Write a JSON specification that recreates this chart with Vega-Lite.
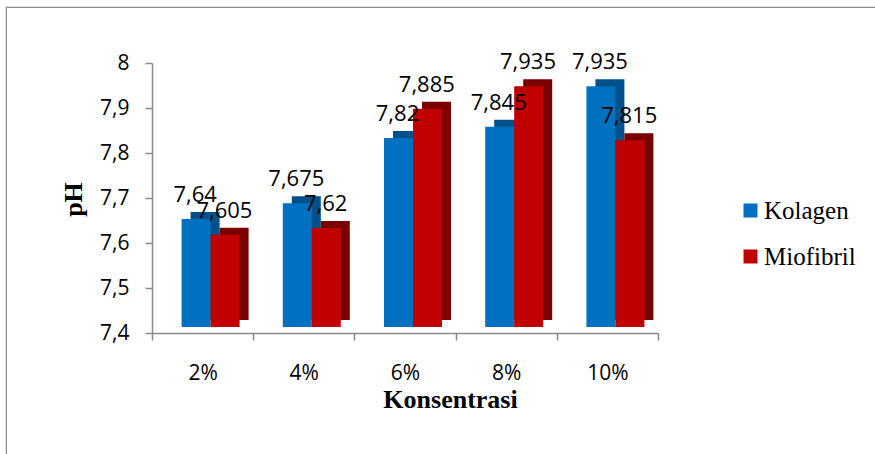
{
  "$schema": "https://vega.github.io/schema/vega-lite/v6.json",
  "width": 873,
  "height": 451,
  "autosize": {"type": "none"},
  "padding": {"left": 6, "top": 7, "right": 0, "bottom": 0},
  "background": "white",
  "config": {
    "locale": {"number": {"decimal": ",", "thousands": ".", "grouping": [3], "currency": ["", ""]}},
    "view": {"stroke": "#8a8a8a", "strokeWidth": 1.2},
    "font": "Open Sans",
    "axis": {"grid": false, "domainColor": "#8a8a8a", "tickColor": "#8a8a8a", "domainWidth": 1.5, "tickWidth": 1.5, "tickSize": 7, "labelColor": "#000000", "labelFont": "Open Sans", "labelFontSize": 21, "titleFont": "Liberation Serif", "titleFontWeight": "bold", "titleFontSize": 26, "titleColor": "#000000"}
  },
  "datasets": {
    "ph": [
      {"konsentrasi": "2%", "series": "Kolagen", "ph": 7.64},
      {"konsentrasi": "4%", "series": "Kolagen", "ph": 7.675},
      {"konsentrasi": "6%", "series": "Kolagen", "ph": 7.82},
      {"konsentrasi": "8%", "series": "Kolagen", "ph": 7.845},
      {"konsentrasi": "10%", "series": "Kolagen", "ph": 7.935},
      {"konsentrasi": "2%", "series": "Miofibril", "ph": 7.605},
      {"konsentrasi": "4%", "series": "Miofibril", "ph": 7.62},
      {"konsentrasi": "6%", "series": "Miofibril", "ph": 7.885},
      {"konsentrasi": "8%", "series": "Miofibril", "ph": 7.935},
      {"konsentrasi": "10%", "series": "Miofibril", "ph": 7.815}
    ]
  },
  "data": {"name": "ph"},
  "encoding": {
    "x": {
      "field": "konsentrasi", "type": "nominal", "sort": null,
      "scale": {"domain": ["2%", "4%", "6%", "8%", "10%"], "range": [146, 652], "paddingInner": 0, "paddingOuter": 0},
      "axis": {"title": "Konsentrasi", "tickBand": "extent", "offset": -125, "labelAngle": 0, "labelPadding": 22, "titleX": 444, "titleY": 74, "titleBaseline": "alphabetic", "titleAlign": "center", "titleAnchor": null}
    },
    "y": {
      "field": "ph", "type": "quantitative",
      "scale": {"domain": [7.4, 8], "range": [326, 56], "nice": false, "zero": false},
      "axis": {"title": "pH", "values": [7.4, 7.5, 7.6, 7.7, 7.8, 7.9, 8], "format": ".1~f", "offset": -146, "labelPadding": 16, "titleX": -79, "titleY": 192, "titleAngle": -90, "titleBaseline": "middle", "titleAlign": "center", "titleAnchor": null}
    }
  },
  "layer": [
    {
      "data": {"values": [{}]},
      "mark": {"type": "rule", "color": "#8a8a8a", "strokeWidth": 1.5, "xOffset": -26.5, "x2Offset": 76.7},
      "encoding": {"x": {"datum": "2%", "type": "nominal"}, "x2": {"datum": "10%"}, "y": {"datum": 7.44, "type": "quantitative"}}
    },
    {
      "data": {"values": [{}]},
      "mark": {"type": "rule", "color": "#8a8a8a", "strokeWidth": 1.5, "xOffset": -50.6, "x2Offset": -26.5},
      "encoding": {"x": {"datum": "2%", "type": "nominal"}, "x2": {"datum": "2%"}, "y": {"datum": 7.4, "type": "quantitative"}, "y2": {"datum": 7.44}}
    },
    {
      "data": {"values": [{}]},
      "mark": {"type": "rule", "color": "#8a8a8a", "strokeWidth": 1.5, "xOffset": 50.6, "x2Offset": 76.7},
      "encoding": {"x": {"datum": "10%", "type": "nominal"}, "x2": {"datum": "10%"}, "y": {"datum": 7.4, "type": "quantitative"}, "y2": {"datum": 7.44}}
    },
    {
      "transform": [{"filter": "datum.series === 'Kolagen'"}],
      "mark": {"type": "bar", "width": 29, "xOffset": 2.5, "yOffset": -13, "y2Offset": -13, "color": "#00508C"},
      "encoding": {"y2": {"datum": 7.4}}
    },
    {
      "transform": [{"filter": "datum.series === 'Kolagen'"}],
      "mark": {"type": "bar", "width": 29, "xOffset": -6.5, "yOffset": -6, "y2Offset": -6},
      "encoding": {
        "y2": {"datum": 7.4},
        "color": {"field": "series", "type": "nominal", "scale": {"domain": ["Kolagen", "Miofibril"], "range": ["#0070C0", "#C00000"]},
          "legend": {"title": null, "orient": "none", "legendX": 732, "legendY": 191, "symbolType": "square", "symbolSize": 196, "symbolStrokeWidth": 0, "labelFont": "Liberation Serif", "labelFontSize": 25, "labelColor": "#000000", "labelOffset": 1, "rowPadding": 20, "padding": 0}}
      }
    },
    {
      "transform": [{"filter": "datum.series === 'Miofibril'"}],
      "mark": {"type": "bar", "width": 29, "xOffset": 31.5, "yOffset": -13, "y2Offset": -13, "color": "#7A0000"},
      "encoding": {"y2": {"datum": 7.4}}
    },
    {
      "transform": [{"filter": "datum.series === 'Miofibril'"}],
      "mark": {"type": "bar", "width": 29, "xOffset": 22.5, "yOffset": -6, "y2Offset": -6},
      "encoding": {
        "y2": {"datum": 7.4},
        "color": {"field": "series", "type": "nominal"}
      }
    },
    {
      "transform": [{"filter": "datum.series === 'Kolagen'"}],
      "mark": {"type": "text", "font": "Open Sans", "fontSize": 22, "baseline": "alphabetic", "dy": -23, "xOffset": -7.5, "color": "#000000"},
      "encoding": {"text": {"field": "ph", "type": "quantitative", "format": ".3~f"}}
    },
    {
      "transform": [{"filter": "datum.series === 'Miofibril'"}],
      "mark": {"type": "text", "font": "Open Sans", "fontSize": 22, "baseline": "alphabetic", "dy": -23, "xOffset": 21.8, "color": "#000000"},
      "encoding": {"text": {"field": "ph", "type": "quantitative", "format": ".3~f"}}
    }
  ]
}
